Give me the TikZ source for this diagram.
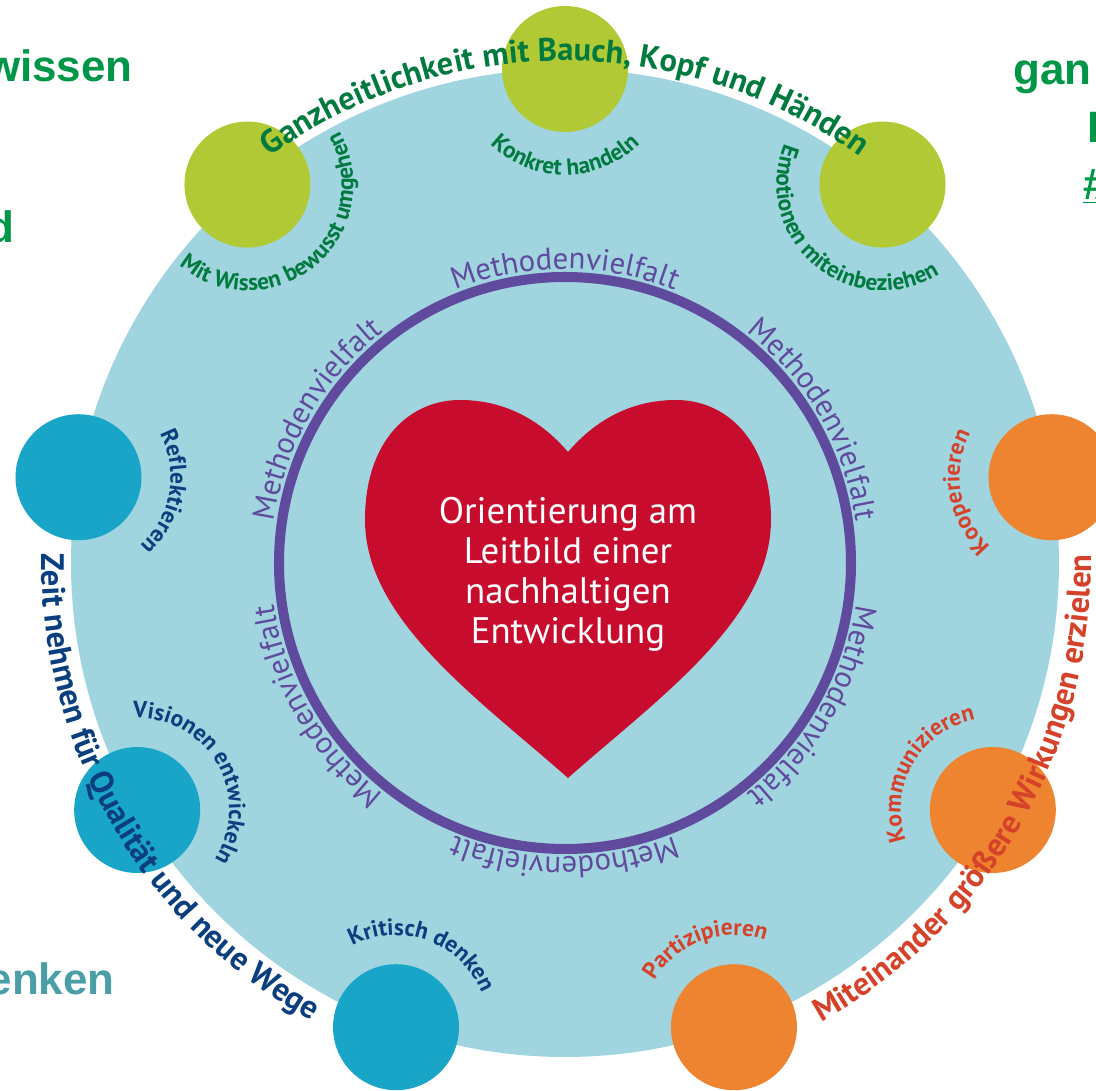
\documentclass[tikz,border=0pt]{standalone}
\usepackage{fontspec}
\setmainfont{PT Sans}
\newfontfamily\slidefont{Liberation Sans}
\usetikzlibrary{decorations.text}

\definecolor{basecolor}{RGB}{160, 213, 224}
\definecolor{ringcolor}{RGB}{96, 74, 157}
\definecolor{heartcolor}{RGB}{200, 12, 46}
\definecolor{greendot}{RGB}{176, 201, 52}
\definecolor{bluedot}{RGB}{24, 165, 200}
\definecolor{orangedot}{RGB}{238, 131, 48}
\definecolor{greentext}{RGB}{0, 122, 62}
\definecolor{bluetext}{RGB}{10, 62, 126}
\definecolor{orangetext}{RGB}{214, 65, 42}
\definecolor{slidegreen}{RGB}{0, 150, 72}
\definecolor{slideteal}{RGB}{74, 158, 166}

\newcommand{\ringfont}{\fontsize{17.5}{20}\selectfont}
\newcommand{\innerfont}{\fontsize{13.3}{15}\selectfont\bfseries}
\newcommand{\outerfont}{\fontsize{18.5}{21}\selectfont\bfseries}

\begin{document}
\begin{tikzpicture}[
    x=0.02cm, y=0.02cm,
    dot/.style={circle, minimum size=2.52cm, inner sep=0pt},
    ringlabel/.style={decorate, decoration={text along path, text align=center,
        text color=ringcolor, text={|\ringfont|Methodenvielfalt}}},
    innerlabel/.style 2 args={decorate, decoration={text along path, text align=center,
        text color=#1, text={|\innerfont|#2}}},
    outerlabel/.style 2 args={decorate, decoration={text along path, text align=center,
        text color=#1, text={|\outerfont|#2}}},
    slide/.style={font=\slidefont\bfseries\fontsize{25}{30}\selectfont, inner sep=0pt}
]
\useasboundingbox (-565,-528) rectangle (531,563);

% Slide text cut off at the edges
\node[slide, text=slidegreen, anchor=base east] (wissen) at (-432, 481) {wissen};
\node[slide, text=slidegreen, anchor=base east] (und) at (-550, 320) {d};
\node[slide, text=slideteal, anchor=base east] (denken) at (-450, -432) {enken};
\node[slide, text=slidegreen, anchor=base west] (ganz) at (448, 478) {gan};
\node[slide, text=slidegreen, anchor=base west] (bild) at (522, 420) {E};
\node[slide, text=slidegreen, anchor=base west] (hash) at (518, 363) {\underline{\#}};

% Base disc and method ring
\coordinate (c) at (0,0);
\fill[basecolor] (c) circle[radius=494];
\draw[ringcolor, line width=5.7pt] (c) circle[radius=286];

% Heart
\fill[heartcolor] (3,-215) .. controls (-85,-137) and (-200,-57) .. (-200,43)
    .. controls (-200,123) and (-155,163) .. (-105,163)
    .. controls (-55,163) and (-20,138) .. (3,111)
    .. controls (26,138) and (61,163) .. (111,163)
    .. controls (161,163) and (206,123) .. (206,43)
    .. controls (206,-57) and (91,-137) .. (3,-215) -- cycle;
\node[text=white, font=\fontsize{21}{22.7}\selectfont, align=center] (core) at (3,-11)
    {Orientierung am\\Leitbild einer\\nachhaltigen\\Entwicklung};

% Methodenvielfalt around the ring
\path[ringlabel] (c) ++(150:294) arc[start angle=150, end angle=30, radius=294];
\path[ringlabel] (c) ++(90:294) arc[start angle=90, end angle=-30, radius=294];
\path[ringlabel] (c) ++(30:294) arc[start angle=30, end angle=-90, radius=294];
\path[ringlabel] (c) ++(-30:294) arc[start angle=-30, end angle=-150, radius=294];
\path[ringlabel] (c) ++(-90:294) arc[start angle=-90, end angle=-210, radius=294];
\path[ringlabel] (c) ++(210:294) arc[start angle=210, end angle=90, radius=294];

% Green group
\node[dot, fill=greendot] (g1) at (130:494) {};
\node[dot, fill=greendot] (g2) at (90:494) {};
\node[dot, fill=greendot] (g3) at (50:494) {};
\path[innerlabel={greentext}{Mit Wissen bewusst umgehen}] (g1.center) ++(210:106) arc[start angle=210, end angle=410, radius=106];
\path[innerlabel={greentext}{Konkret handeln}] (g2.center) ++(170:106) arc[start angle=170, end angle=370, radius=106];
\path[innerlabel={greentext}{Emotionen miteinbeziehen}] (g3.center) ++(130:106) arc[start angle=130, end angle=330, radius=106];

% Orange group
\node[dot, fill=orangedot] (o1) at (10:494) {};
\node[dot, fill=orangedot] (o2) at (-30:494) {};
\node[dot, fill=orangedot] (o3) at (-70:494) {};
\path[innerlabel={orangetext}{Kooperieren}] (o1.center) ++(290:92) arc[start angle=290, end angle=90, radius=92];
\path[innerlabel={orangetext}{Kommunizieren}] (o2.center) ++(250:92) arc[start angle=250, end angle=50, radius=92];
\path[innerlabel={orangetext}{Partizipieren}] (o3.center) ++(210:92) arc[start angle=210, end angle=10, radius=92];

% Blue group
\node[dot, fill=bluedot] (b1) at (-110:494) {};
\node[dot, fill=bluedot] (b2) at (-150:494) {};
\node[dot, fill=bluedot] (b3) at (170:494) {};
\path[innerlabel={bluetext}{Kritisch denken}] (b1.center) ++(170:92) arc[start angle=170, end angle=-30, radius=92];
\path[innerlabel={bluetext}{Visionen entwickeln}] (b2.center) ++(130:92) arc[start angle=130, end angle=-70, radius=92];
\path[innerlabel={bluetext}{Reflektieren}] (b3.center) ++(90:92) arc[start angle=90, end angle=-110, radius=92];

% Group titles on the rim
\path[outerlabel={greentext}{Ganzheitlichkeit mit Bauch, Kopf und Händen}] (c) ++(170:502) arc[start angle=170, end angle=10, radius=502];
\path[outerlabel={bluetext}{Zeit nehmen für Qualität und neue Wege}] (c) ++(120:523) arc[start angle=120, end angle=300, radius=523];
\path[outerlabel={orangetext}{Miteinander größere Wirkungen erzielen}] (c) ++(-120:526) arc[start angle=-120, end angle=60, radius=526];

\end{tikzpicture}
\end{document}
